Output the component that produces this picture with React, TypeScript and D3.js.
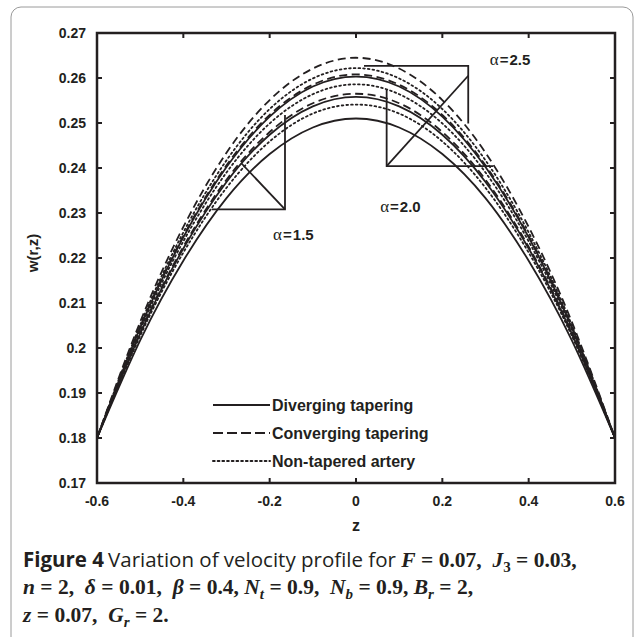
import React from 'react';
import * as d3 from 'd3';

// z positions where the curves were read
const zVals = [-0.6, -0.5, -0.4, -0.3, -0.2, -0.1, 0, 0.1, 0.2, 0.3, 0.4, 0.5, 0.6];

// w(r,z), alpha = 2.5 / 2.0 / 1.5
const conv25 = [0.18, 0.2058, 0.2269, 0.2434, 0.2551, 0.2621, 0.2645, 0.2621, 0.2551, 0.2434, 0.2269, 0.2058, 0.18];
const non25 = [0.18, 0.2051, 0.2257, 0.2417, 0.2531, 0.2599, 0.2622, 0.2599, 0.2531, 0.2417, 0.2257, 0.2051, 0.18];
const div25 = [0.18, 0.2045, 0.2246, 0.2402, 0.2514, 0.2581, 0.2603, 0.2581, 0.2514, 0.2402, 0.2246, 0.2045, 0.18];
const conv20 = [0.18, 0.2047, 0.2249, 0.2406, 0.2518, 0.2585, 0.2608, 0.2585, 0.2518, 0.2406, 0.2249, 0.2047, 0.18];
const non20 = [0.18, 0.204, 0.2237, 0.239, 0.2499, 0.2564, 0.2586, 0.2564, 0.2499, 0.239, 0.2237, 0.204, 0.18];
const div20 = [0.18, 0.2032, 0.2221, 0.2369, 0.2474, 0.2537, 0.2558, 0.2537, 0.2474, 0.2369, 0.2221, 0.2032, 0.18];
const conv15 = [0.18, 0.2034, 0.2225, 0.2374, 0.248, 0.2544, 0.2565, 0.2544, 0.248, 0.2374, 0.2225, 0.2034, 0.18];
const non15 = [0.18, 0.2027, 0.2212, 0.2356, 0.2459, 0.2521, 0.2541, 0.2521, 0.2459, 0.2356, 0.2212, 0.2027, 0.18];
const div15 = [0.18, 0.2017, 0.2194, 0.2333, 0.2431, 0.249, 0.251, 0.249, 0.2431, 0.2333, 0.2194, 0.2017, 0.18];

const xTicks = [-0.6, -0.4, -0.2, 0, 0.2, 0.4, 0.6];
const xTickLabels = ['-0.6', '-0.4', '-0.2', '0', '0.2', '0.4', '0.6'];
const yTicks = [0.17, 0.18, 0.19, 0.2, 0.21, 0.22, 0.23, 0.24, 0.25, 0.26, 0.27];
const yTickLabels = ['0.17', '0.18', '0.19', '0.2', '0.21', '0.22', '0.23', '0.24', '0.25', '0.26', '0.27'];

const legendNames = ['Diverging tapering', 'Converging tapering', 'Non-tapered artery'];

// callouts: [z, w] polylines + label
const callouts = [
  { label: '2.5', at: [0.31, 0.264], lines: [[[0.0185, 0.2627], [0.26, 0.2627], [0.26, 0.2499]]] },
  { label: '2.0', at: [0.056, 0.2313], lines: [[[0.071, 0.2575], [0.071, 0.2404], [0.318, 0.2404]], [[0.071, 0.2404], [0.26, 0.2605]]] },
  { label: '1.5', at: [-0.192, 0.2251], lines: [[[-0.334, 0.2308], [-0.1645, 0.2308], [-0.1645, 0.2518]], [[-0.1645, 0.2308], [-0.265, 0.241]]] },
];

const INK = '#231f20';
const DASH = '8,4.5';
const DOT = '1.7,3';

const App = () => {
  const left = 97, right = 615, top = 33, bottom = 483;
  const x = d3.scaleLinear().domain([-0.6, 0.6]).range([left, right]);
  const y = d3.scaleLinear().domain([0.17, 0.27]).range([bottom, top]);

  const line = d3.line<number>()
    .x((d, i) => x(zVals[i]))
    .y(d => y(d))
    .curve(d3.curveNatural);

  const series = [
    { v: div15, dash: null }, { v: non15, dash: DOT }, { v: conv15, dash: DASH },
    { v: div20, dash: null }, { v: non20, dash: DOT }, { v: conv20, dash: DASH },
    { v: div25, dash: null }, { v: non25, dash: DOT }, { v: conv25, dash: DASH },
  ];

  const legendDash = [null, '10,4', DOT];
  const legendY = [405, 433, 461];

  const axisFont = { fontFamily: 'Liberation Sans, Arial, sans-serif', fontWeight: 'bold', fill: INK };
  const serif = 'Liberation Serif, serif';
  const sub = 15;

  return (
    <svg width={637} height={637} style={{ position: 'absolute', left: 0, top: 0 }}>
      <rect x={11} y={7} width={622} height={640} rx={10} fill="white" stroke="#9a9a9a" strokeWidth={1} />

      {series.map((s, i) => (
        <path key={i} d={line(s.v) || ''} fill="none" stroke={INK} strokeWidth={1.8}
          strokeDasharray={s.dash || undefined} strokeLinecap={s.dash === DOT ? 'round' : 'butt'} />
      ))}

      {callouts.map((c, i) => (
        <g key={i}>
          {c.lines.map((pts, j) => (
            <polyline key={j} points={pts.map(p => `${x(p[0])},${y(p[1])}`).join(' ')}
              fill="none" stroke={INK} strokeWidth={1.8} />
          ))}
          <text x={x(c.at[0])} y={y(c.at[1]) + 5} fontSize={15} fill={INK}>
            <tspan fontFamily={serif} fontSize={17}>α</tspan>
            <tspan {...axisFont} dx={1}>=</tspan>
            <tspan {...axisFont} dx={1}>{c.label}</tspan>
          </text>
        </g>
      ))}

      {/* legend */}
      {legendNames.map((n, i) => (
        <g key={n}>
          <line x1={213} x2={270} y1={legendY[i]} y2={legendY[i]} stroke={INK} strokeWidth={2}
            strokeDasharray={legendDash[i] || undefined} strokeLinecap={i === 2 ? 'round' : 'butt'} />
          <text x={272} y={legendY[i] + 5.5} fontSize={16} {...axisFont}>{n}</text>
        </g>
      ))}

      {/* frame and ticks */}
      <rect x={left} y={top} width={right - left} height={bottom - top} fill="none" stroke={INK} strokeWidth={2.5} />
      {xTicks.map((t, i) => (
        <g key={'x' + i}>
          <line x1={x(t)} x2={x(t)} y1={bottom} y2={bottom - 5} stroke={INK} strokeWidth={2} />
          <line x1={x(t)} x2={x(t)} y1={top} y2={top + 5} stroke={INK} strokeWidth={2} />
          <text x={x(t)} y={bottom + 23} textAnchor="middle" fontSize={14} {...axisFont}>{xTickLabels[i]}</text>
        </g>
      ))}
      {yTicks.map((t, i) => (
        <g key={'y' + i}>
          <line x1={left} x2={left + 5} y1={y(t)} y2={y(t)} stroke={INK} strokeWidth={2} />
          <line x1={right} x2={right - 5} y1={y(t)} y2={y(t)} stroke={INK} strokeWidth={2} />
          <text x={left - 11} y={y(t) + 5} textAnchor="end" fontSize={14} {...axisFont}>{yTickLabels[i]}</text>
        </g>
      ))}
      <text x={x(0)} y={bottom + 48} textAnchor="middle" fontSize={16} {...axisFont}>z</text>
      <text transform={`translate(38,${(top + bottom) / 2 - 5}) rotate(-90)`} textAnchor="middle" fontSize={15} {...axisFont}>w(r,z)</text>

      {/* caption */}
      <g fill={INK} fontSize={20.5}>
        <text x={23} y={567} style={{ whiteSpace: 'pre' }}>
          <tspan fontFamily="Open Sans, sans-serif" fontWeight="bold">Figure 4</tspan>
          <tspan fontFamily="Open Sans, sans-serif" dx={4}>Variation of velocity profile for </tspan>
          <tspan fontFamily={serif} fontWeight="bold" fontSize={21.5}>
            <tspan fontStyle="italic">F</tspan> = 0.07,  <tspan fontStyle="italic">J</tspan><tspan fontSize={sub} dy={5}>3</tspan><tspan dy={-5}> = 0.03,</tspan>
          </tspan>
        </text>
        <text x={23} y={594} fontFamily={serif} fontWeight="bold" fontSize={21.5} style={{ whiteSpace: 'pre' }}>
          <tspan fontStyle="italic">n</tspan> = 2,  <tspan fontStyle="italic">δ</tspan> = 0.01,  <tspan fontStyle="italic">β</tspan> = 0.4, <tspan fontStyle="italic">N</tspan><tspan fontSize={sub} dy={5} fontStyle="italic">t</tspan><tspan dy={-5}> = 0.9,  </tspan><tspan fontStyle="italic">N</tspan><tspan fontSize={sub} dy={5} fontStyle="italic">b</tspan><tspan dy={-5}> = 0.9, </tspan><tspan fontStyle="italic">B</tspan><tspan fontSize={sub} dy={5} fontStyle="italic">r</tspan><tspan dy={-5}> = 2,</tspan>
        </text>
        <text x={23} y={622} fontFamily={serif} fontWeight="bold" fontSize={21.5} style={{ whiteSpace: 'pre' }}>
          <tspan fontStyle="italic">z</tspan> = 0.07,  <tspan fontStyle="italic">G</tspan><tspan fontSize={sub} dy={5} fontStyle="italic">r</tspan><tspan dy={-5}> = 2.</tspan>
        </text>
      </g>
    </svg>
  );
};

export default App;
